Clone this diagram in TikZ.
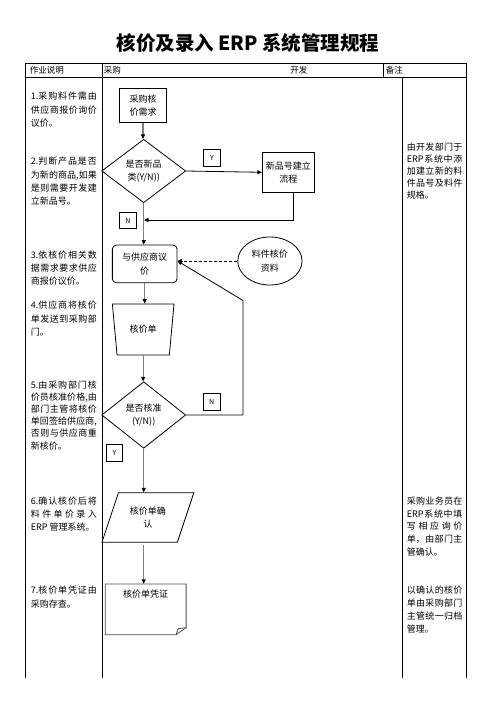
\documentclass[tikz,border=0pt]{standalone}
\usepackage{fontspec}
\setmainfont{Noto Sans CJK SC}
\usepackage{xcolor}
\usepackage{tikz}
\usetikzlibrary{shapes.geometric,arrows.meta}

\definecolor{flowgray}{HTML}{7F7F7F}
% one justified line of a note column
\newcommand\spread[2][66pt]{\hbox to #1{\spaceskip=0pt plus 1fil\relax #2}}

\begin{document}
\begin{tikzpicture}[x=1pt,y=-1pt,line width=0.8pt,
    flowtext/.style={font=\fontsize{9pt}{13.4pt}\selectfont,align=center,inner sep=0pt},
    procbox/.style={flowtext,draw,rectangle},
    decision/.style={flowtext,draw,diamond,aspect=1.3},
    flagbox/.style={draw,inner sep=0pt,minimum size=16.5pt,font=\fontsize{7pt}{8pt}\selectfont},
    notetext/.style={font=\fontsize{9pt}{13.4pt}\selectfont,align=left,inner sep=0pt,anchor=north west},
    headtext/.style={font=\fontsize{8.5pt}{10pt}\selectfont,inner sep=0pt,anchor=west},
    mainflow/.style={draw=flowgray,line width=1.2pt,-{Triangle[length=4.5pt,width=4pt,color=black]}},
    sideflow/.style={-{Triangle[length=4.5pt,width=4pt]}}]
    \useasboundingbox (0,0) rectangle (496,702);

    % Title
    \node[font=\bfseries\fontsize{19.5pt}{22pt}\selectfont] (title) at (248,43) {核价及录入 ERP 系统管理规程};

    % Header row of the table
    \draw (25,63.7) rectangle (466.5,77);
    \draw (102,63.7) -- (102,77);
    \draw (383,63.7) -- (383,77);
    \node[headtext] (hnote) at (29.5,70.3) {作业说明};
    \node[headtext] (hbuy) at (103.5,70.3) {采购};
    \node[headtext] (hdev) at (290,70.3) {开发};
    \node[headtext] (hremark) at (385.5,70.3) {备注};

    % Body columns (left open at the bottom)
    \foreach \x in {25,102,402,466.5}
        \draw (\x,77) -- (\x,678);

    % Flow chart
    \node[procbox,minimum width=46.4pt,minimum height=34.4pt] (req) at (143,105.5) {采购核\\价需求};
    \node[decision,minimum width=84pt,minimum height=63.4pt] (newcat) at (143.7,171) {是否新品\\类(Y/N))};
    \node[procbox,minimum width=52pt,minimum height=40pt] (newno) at (288.3,172.3) {新品号建立\\流程};
    \node[procbox,rounded corners=4pt,minimum width=64.7pt,minimum height=37.7pt] (bargain) at (144.7,263.9) {与供应商议\\价};
    \node[flowtext,draw,ellipse,minimum width=64.3pt,minimum height=48pt] (data) at (269.9,261) {料件核价\\资料};
    \node[flowtext,draw,trapezium,shape border rotate=180,trapezium angle=74,trapezium stretches,
          minimum width=61.7pt,minimum height=51pt] (quote) at (143.2,329.5) {核价单};
    \node[decision,minimum width=84pt,minimum height=66.6pt] (approve) at (143.7,415) {是否核准\\(Y/N))};
    \node[flowtext,draw,trapezium,trapezium left angle=65,trapezium right angle=115,trapezium stretches,
          minimum width=92.3pt,minimum height=49.6pt] (confirm) at (147.9,517.5) {核价单确\\认};
    \node[flowtext,minimum width=80pt,minimum height=50pt] (voucher) at (145.7,609.3) {};
    \node[flowtext] (vouchertxt) at ([yshift=-10pt]voucher.north) {核价单凭证};
    % Outline of the voucher with its folded corner
    \draw[draw=black!70] (voucher.north west) -- (voucher.north east) -- ([yshift=7pt]voucher.south east)
        -- ([xshift=-10pt]voucher.south east) -- (voucher.south west) -- cycle;
    \draw[draw=black!70] ([xshift=-10pt]voucher.south east) -- ([xshift=-8pt,yshift=6pt]voucher.south east)
        -- ([yshift=7pt]voucher.south east);

    % Y / N flags
    \node[flagbox] (flagy1) at (212,158) {Y};
    \node[flagbox] (flagn1) at (128,220.5) {N};
    \node[flagbox] (flagn2) at (211.7,401.7) {N};
    \node[flagbox] (flagy2) at (114.5,452.8) {Y};

    % Connectors
    \coordinate (join) at (144,220);
    \coordinate (back) at (243,300.5);
    \draw[mainflow] (req) -- (req |- newcat.north);
    \draw[sideflow] (newcat.east) -- (newno.west);
    \draw[sideflow] ([xshift=5pt]newno.south) |- (join);
    \draw[mainflow] (newcat.south) -- (newcat.south |- bargain.north);
    \draw[sideflow,dashed,dash pattern=on 3pt off 2pt] (data.west) -- (data.west -| bargain.east);
    \draw[mainflow] (bargain.south) -- (bargain.south |- quote.north);
    \draw[mainflow] (quote.south) -- (quote.south |- approve.north);
    \draw[sideflow] (approve.east) -| (back) -- ([yshift=3pt]bargain.east);
    \draw[mainflow] (approve.south) -- (approve.south |- confirm.north);
    \draw[mainflow] ([yshift=-2.5pt]approve.south |- confirm.south) -- (approve.south |- voucher.north);

    % Notes of the left column
    \node[notetext] (note1) at (30.5,91.7) {\spread{1.采 购 料 件 需 由}\\\spread{供 应 商 报 价 询 价}\\议价。};
    \node[notetext] (note2) at (30.5,156.7) {\spread{2.判 断 产 品 是 否}\\\spread{为 新 的 商 品, 如 果}\\\spread{是 则 需 要 开 发 建}\\立新品号。};
    \node[notetext] (note3) at (30.5,250) {\spread{3.依 核 价 相 关 数}\\\spread{据 需 求 要 求 供 应}\\商报价议价。};
    \node[notetext] (note4) at (30.5,300.7) {\spread{4.供 应 商 将 核 价}\\\spread{单 发 送 到 采 购 部}\\门。};
    \node[notetext,font=\fontsize{9pt}{12.2pt}\selectfont] (note5) at (30.5,380) {\spread{5.由 采 购 部 门 核}\\\spread{价 员 核 准 价 格, 由}\\\spread{部 门 主 管 将 核 价}\\\spread{单 回 签 给 供 应 商,}\\\spread{否 则 与 供 应 商 重}\\新核价。};
    \node[notetext,font=\fontsize{9pt}{13pt}\selectfont] (note6) at (30.5,496.4) {\spread{6.确 认 核 价 后 将}\\\spread{料 件 单 价 录 入}\\ERP 管理系统。};
    \node[notetext,font=\fontsize{9pt}{13.3pt}\selectfont] (note7) at (30.5,585.7) {\spread{7.核 价 单 凭 证 由}\\采购存查。};

    % Notes of the right column
    \node[notetext,font=\fontsize{9pt}{11.9pt}\selectfont] (remark1) at (406.5,142.4) {\spread[55.5pt]{由 开 发 部 门 于}\\\spread[55.5pt]{ERP 系 统 中 添}\\\spread[55.5pt]{加 建 立 新 的 料}\\\spread[55.5pt]{件 品 号 及 料 件}\\规格。};
    \node[notetext,font=\fontsize{9pt}{12.8pt}\selectfont] (remark2) at (406.5,496.4) {\spread[55.5pt]{采 购 业 务 员 在}\\\spread[55.5pt]{ERP 系 统 中 填}\\\spread[55.5pt]{写 相 应 询 价}\\\spread[55.5pt]{单， 由 部 门 主}\\管确认。};
    \node[notetext,font=\fontsize{9pt}{13pt}\selectfont] (remark3) at (406.5,585) {\spread[55.5pt]{以 确 认 的 核 价}\\\spread[55.5pt]{单 由 采 购 部 门}\\\spread[55.5pt]{主 管 统 一 归 档}\\管理。};
\end{tikzpicture}
\end{document}
